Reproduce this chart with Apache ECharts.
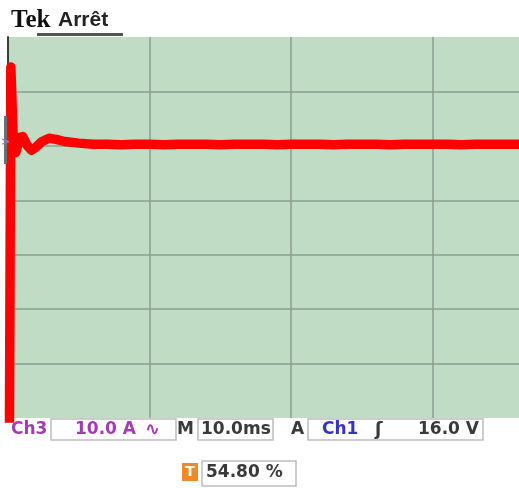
<!DOCTYPE html>
<html>
<head>
<meta charset="utf-8">
<script src="https://cdn.jsdelivr.net/npm/echarts@6/dist/echarts.min.js"></script>
<style>
html,body{margin:0;padding:0;background:#ffffff;}
#chart{width:519px;height:488px;}
</style>
</head>
<body>
<div id="chart"></div>
<script>
const timeMs = [0.10, 0.20, 0.32, 0.40, 0.55, 0.85, 1.05, 1.35, 1.65, 1.95, 2.40, 2.90, 3.40, 4.00, 5.00,
  6.0, 7.0, 8.0, 9.0, 10.0, 11.0, 12.0, 13.0, 14.0, 15.0, 16.0, 17.0, 18.0, 19.0, 20.0, 21.0, 22.0, 23.0,
  24.0, 25.0, 26.0, 27.0, 28.0, 29.0, 30.0, 31.0, 32.0, 33.0, 34.0, 35.0, 36.1];
const currentA = [-3.0, 64.5, 64.5, 49.0, 48.8, 51.6, 51.7, 50.1, 49.2, 49.7, 50.8, 51.4, 51.2, 50.8, 50.5,
  50.3, 50.3, 50.2, 50.3, 50.3, 50.2, 50.3, 50.3, 50.3, 50.2, 50.3, 50.3, 50.3, 50.2, 50.3, 50.3, 50.3, 50.2,
  50.3, 50.3, 50.3, 50.2, 50.3, 50.3, 50.3, 50.3, 50.2, 50.3, 50.3, 50.3, 50.3];
const xTicks = [0, 10, 20, 30];
const yTicks = [0, 10, 20, 30, 40, 50, 60, 70];

const chart = echarts.init(document.getElementById('chart'), null, {renderer: 'canvas'});
const purple = '#a33cb3';
const blue = '#3434c4';
const dark = '#3a3a3a';
const boxStyle = {fill: '#ffffff', stroke: '#bdbdbd', lineWidth: 1.5};
const txt = (x, y, text, font, fill, align) => ({
  type: 'text', x: x, y: y, z: 20,
  style: {text: text, font: font, fill: fill, textAlign: align || 'left', textVerticalAlign: 'middle'}
});
const box = (x, y, w, h) => ({type: 'rect', z: 15, shape: {x: x, y: y, width: w, height: h}, style: boxStyle});

chart.setOption({
  animation: false,
  backgroundColor: '#ffffff',
  grid: {left: 8, top: 37, right: 0, bottom: 70, show: true, backgroundColor: '#c1dcc5', borderWidth: 0},
  xAxis: {
    type: 'value', min: xTicks[0], max: 36.1, interval: 10,
    axisLine: {show: false}, axisTick: {show: false}, axisLabel: {show: false},
    splitLine: {show: true, showMinLine: false, showMaxLine: false, lineStyle: {color: '#8d9d8f', width: 1.5}}
  },
  yAxis: {
    type: 'value', min: yTicks[0], max: yTicks[yTicks.length - 1], interval: 10,
    axisLine: {show: true, lineStyle: {color: '#3c3c3c', width: 2}},
    axisTick: {show: false}, axisLabel: {show: false},
    splitLine: {show: true, showMinLine: false, showMaxLine: false, lineStyle: {color: '#8d9d8f', width: 1.5}}
  },
  series: [{
    type: 'line',
    data: timeMs.map((t, i) => [t, currentA[i]]),
    symbol: 'none',
    clip: true,
    lineStyle: {color: '#ff0000', width: 9.5, cap: 'round', join: 'round'},
    z: 5
  }],
  graphic: [
    // header
    txt(11, 21, 'Tek', 'bold 25px "Liberation Serif"', '#111111'),
    txt(58, 20, 'Arrêt', 'bold 21px "Liberation Sans"', '#222222'),
    {type: 'rect', z: 15, shape: {x: 37, y: 33, width: 86, height: 3}, style: {fill: '#555555'}},
    // trigger level marker
    {type: 'rect', z: 15, shape: {x: 4, y: 116, width: 3, height: 48}, style: {fill: '#6e6e6e'}},
    txt(1, 142, '>', 'bold 11px "DejaVu Sans"', '#b070c0'),
    // bottom row
    box(51, 419, 125, 21),
    box(198, 419, 75, 21),
    box(308, 419, 175, 21),
    txt(11, 430, 'Ch3', 'bold 17px "DejaVu Sans"', purple),
    txt(75, 430, '10.0 A', 'bold 17px "DejaVu Sans"', purple),
    txt(145, 430, '∿', 'bold 18px "DejaVu Sans"', purple),
    txt(177, 430, 'M', 'bold 17px "DejaVu Sans"', dark),
    txt(201, 430, '10.0ms', 'bold 17px "DejaVu Sans"', dark),
    txt(291, 430, 'A', 'bold 17px "DejaVu Sans"', dark),
    txt(322, 430, 'Ch1', 'bold 17px "DejaVu Sans"', blue),
    txt(375, 430, 'ʃ', 'bold 18px "DejaVu Sans"', dark),
    txt(418, 430, '16.0 V', 'bold 17px "DejaVu Sans"', dark),
    // second row
    {type: 'rect', z: 15, shape: {x: 182, y: 463, width: 16, height: 18}, style: {fill: '#f08a24'}},
    txt(190, 472, 'T', 'bold 14px "DejaVu Sans"', '#ffffff', 'center'),
    box(202, 461, 94, 25),
    txt(206, 473, '54.80 %', 'bold 17px "DejaVu Sans"', dark)
  ]
});
</script>
</body>
</html>
